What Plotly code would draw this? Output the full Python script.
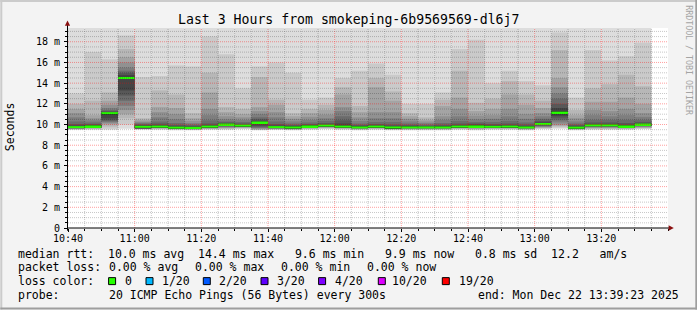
import pandas as pd
import plotly.graph_objects as go

# ---------------- data ----------------
title_text = "Last 3 Hours from smokeping-6b9569569-dl6j7"
start_time = "2025-12-22 10:40:00"
step_minutes = 5

# 20 sorted ping RTTs (ms) per 5-minute step
pings = [
    [9.48, 9.52, 9.55, 9.58, 9.60, 9.62, 9.64, 9.66, 9.68, 9.70, 9.80, 9.90, 10.05, 10.3, 10.7, 11.1, 11.5, 12.0, 13.0, 22.0],
    [9.50, 9.55, 9.60, 9.63, 9.66, 9.70, 9.72, 9.75, 9.76, 9.77, 9.87, 9.95, 10.05, 10.2, 10.4, 10.6, 10.9, 12.3, 17.0, 21.0],
    [9.50, 9.60, 9.80, 10.0, 10.1, 10.2, 10.3, 10.4, 10.6, 11.0, 11.15, 11.2, 11.3, 11.4, 11.6, 11.9, 12.3, 13.1, 16.3, 23.0],
    [9.60, 10.0, 10.6, 11.0, 11.4, 11.8, 12.3, 12.8, 13.3, 14.4, 14.6, 14.8, 15.0, 15.2, 15.5, 16.0, 16.5, 17.3, 18.6, 25.0],
    [9.50, 9.55, 9.58, 9.60, 9.62, 9.63, 9.64, 9.64, 9.64, 9.64, 9.84, 9.92, 10.0, 10.1, 10.2, 10.3, 10.45, 10.6, 14.6, 22.0],
    [9.50, 9.55, 9.60, 9.63, 9.66, 9.70, 9.72, 9.74, 9.75, 9.75, 9.85, 9.95, 10.1, 10.3, 10.7, 11.2, 11.7, 13.3, 14.7, 20.5],
    [9.45, 9.50, 9.54, 9.57, 9.60, 9.62, 9.64, 9.65, 9.65, 9.65, 9.76, 9.85, 9.95, 10.15, 10.5, 11.0, 11.6, 12.9, 15.7, 21.0],
    [9.45, 9.48, 9.50, 9.53, 9.56, 9.58, 9.60, 9.61, 9.62, 9.63, 9.73, 9.80, 9.90, 10.0, 10.15, 10.35, 10.6, 11.1, 15.6, 20.0],
    [9.50, 9.55, 9.58, 9.61, 9.64, 9.67, 9.70, 9.72, 9.73, 9.74, 9.86, 9.95, 10.1, 10.4, 10.9, 11.5, 13.1, 15.0, 18.5, 24.0],
    [9.50, 9.55, 9.60, 9.65, 9.70, 9.75, 9.80, 9.85, 9.90, 9.95, 10.05, 10.12, 10.2, 10.3, 10.5, 10.8, 11.2, 11.7, 16.8, 22.0],
    [9.55, 9.60, 9.65, 9.70, 9.74, 9.78, 9.80, 9.82, 9.84, 9.85, 9.95, 10.0, 10.1, 10.25, 10.45, 10.7, 11.0, 11.5, 13.5, 21.0],
    [9.45, 9.50, 9.50, 9.55, 9.60, 9.65, 9.70, 9.80, 9.90, 10.1, 10.25, 10.35, 10.5, 10.7, 11.0, 11.3, 11.7, 14.6, 15.6, 23.0],
    [9.48, 9.52, 9.55, 9.58, 9.60, 9.62, 9.64, 9.66, 9.68, 9.70, 9.80, 9.90, 10.05, 10.3, 10.7, 11.2, 11.9, 12.4, 16.0, 22.0],
    [9.45, 9.50, 9.52, 9.55, 9.58, 9.60, 9.62, 9.64, 9.66, 9.67, 9.77, 9.85, 9.95, 10.1, 10.3, 10.55, 10.8, 11.1, 15.0, 21.0],
    [9.50, 9.55, 9.60, 9.63, 9.66, 9.70, 9.72, 9.74, 9.76, 9.77, 9.87, 9.95, 10.05, 10.2, 10.45, 10.75, 11.1, 11.5, 12.4, 20.5],
    [9.55, 9.60, 9.65, 9.70, 9.74, 9.77, 9.80, 9.82, 9.84, 9.85, 9.95, 10.02, 10.15, 10.35, 10.6, 10.95, 11.4, 11.9, 12.6, 21.0],
    [9.50, 9.55, 9.60, 9.63, 9.66, 9.68, 9.70, 9.70, 9.70, 9.70, 9.90, 10.1, 10.4, 10.8, 11.3, 11.7, 12.9, 13.6, 14.5, 22.0],
    [9.45, 9.50, 9.53, 9.56, 9.59, 9.62, 9.64, 9.66, 9.67, 9.67, 9.77, 9.85, 9.95, 10.1, 10.35, 10.7, 11.2, 11.8, 15.2, 21.0],
    [9.50, 9.55, 9.60, 9.63, 9.66, 9.69, 9.72, 9.74, 9.75, 9.75, 9.85, 9.93, 10.05, 10.25, 10.6, 11.2, 13.6, 14.5, 15.9, 22.0],
    [9.45, 9.50, 9.53, 9.56, 9.59, 9.62, 9.64, 9.65, 9.66, 9.66, 9.78, 9.87, 10.0, 10.25, 10.6, 11.2, 12.3, 13.2, 14.8, 21.0],
    [9.45, 9.50, 9.53, 9.56, 9.59, 9.62, 9.64, 9.66, 9.67, 9.67, 9.77, 9.85, 9.95, 10.1, 10.3, 10.55, 10.8, 11.1, 12.0, 20.5],
    [9.45, 9.50, 9.53, 9.56, 9.59, 9.62, 9.64, 9.66, 9.67, 9.68, 9.76, 9.82, 9.90, 10.0, 10.15, 10.3, 10.45, 10.7, 12.0, 20.5],
    [9.45, 9.50, 9.53, 9.56, 9.59, 9.62, 9.64, 9.66, 9.67, 9.67, 9.77, 9.85, 9.97, 10.15, 10.45, 10.8, 11.8, 12.4, 13.1, 21.0],
    [9.50, 9.55, 9.60, 9.63, 9.66, 9.69, 9.72, 9.74, 9.75, 9.75, 9.85, 9.95, 10.1, 10.35, 10.8, 11.5, 12.6, 15.2, 17.3, 23.0],
    [9.45, 9.50, 9.55, 9.60, 9.64, 9.66, 9.68, 9.68, 9.68, 9.68, 9.95, 10.0, 10.1, 10.25, 10.5, 10.85, 11.3, 12.1, 18.2, 24.0],
    [9.50, 9.55, 9.60, 9.63, 9.66, 9.69, 9.72, 9.73, 9.73, 9.73, 9.83, 9.92, 10.05, 10.25, 10.55, 10.9, 11.5, 12.5, 14.0, 21.0],
    [9.50, 9.55, 9.60, 9.63, 9.66, 9.69, 9.72, 9.74, 9.75, 9.75, 9.85, 9.95, 10.1, 10.35, 10.8, 11.5, 12.9, 14.2, 15.2, 22.0],
    [9.45, 9.50, 9.53, 9.56, 9.59, 9.62, 9.64, 9.66, 9.67, 9.67, 9.77, 9.85, 10.0, 10.2, 10.55, 11.0, 11.9, 12.9, 14.2, 21.0],
    [9.55, 9.60, 9.65, 9.70, 9.75, 9.80, 9.85, 9.90, 9.95, 10.0, 10.1, 10.2, 10.35, 10.55, 10.8, 11.1, 11.6, 12.3, 13.8, 21.5],
    [9.60, 9.70, 9.80, 9.90, 10.0, 10.2, 10.4, 10.6, 10.8, 11.0, 11.3, 11.6, 12.0, 12.5, 13.0, 13.6, 14.5, 17.2, 18.9, 26.0],
    [9.45, 9.50, 9.53, 9.56, 9.59, 9.62, 9.64, 9.65, 9.65, 9.65, 9.75, 9.83, 9.95, 10.1, 10.3, 10.6, 10.9, 11.4, 12.6, 20.5],
    [9.50, 9.55, 9.60, 9.65, 9.70, 9.75, 9.78, 9.80, 9.84, 9.87, 9.97, 10.05, 10.2, 10.45, 10.9, 11.4, 12.2, 13.5, 17.2, 23.0],
    [9.50, 9.55, 9.60, 9.65, 9.70, 9.75, 9.78, 9.80, 9.84, 9.87, 9.97, 10.05, 10.2, 10.45, 10.8, 11.3, 12.2, 13.9, 16.2, 22.0],
    [9.50, 9.55, 9.60, 9.63, 9.66, 9.69, 9.72, 9.74, 9.76, 9.77, 9.87, 9.97, 10.15, 10.45, 10.9, 11.5, 12.6, 14.8, 16.6, 22.0],
    [9.55, 9.60, 9.65, 9.70, 9.75, 9.80, 9.85, 9.90, 9.93, 9.95, 10.05, 10.12, 10.25, 10.45, 10.75, 11.1, 12.0, 13.7, 17.9, 24.0],
]

median_rtt = [9.75, 9.82, 11.1, 14.5, 9.78, 9.80, 9.70, 9.68, 9.80, 10.0,
              9.90, 10.2, 9.75, 9.72, 9.82, 9.90, 9.80, 9.72, 9.80, 9.72,
              9.72, 9.72, 9.72, 9.80, 9.82, 9.78, 9.80, 9.72, 10.05, 11.15,
              9.70, 9.92, 9.92, 9.82, 10.0]

x_tick_labels = ["10:40", "11:00", "11:20", "11:40", "12:00", "12:20", "12:40", "13:00", "13:20"]
y_tick_values = [0, 2, 4, 6, 8, 10, 12, 14, 16, 18]
y_tick_labels = ["0", "2 m", "4 m", "6 m", "8 m", "10 m", "12 m", "14 m", "16 m", "18 m"]
y_max = 19.33

stats_rtt_line = "median rtt:  10.0 ms avg  14.4 ms max   9.6 ms min   9.9 ms now   0.8 ms sd  12.2   am/s"
stats_loss = ["packet loss:", "0.00 % avg", "0.00 % max", "0.00 % min", "0.00 % now"]
loss_labels = ["0", "1/20", "2/20", "3/20", "4/20", "10/20", "19/20"]
loss_colors = ["#26ff00", "#00b8ff", "#0059ff", "#5e00ff", "#7e00ff", "#dd00ff", "#ff0000"]
probe_text = "20 ICMP Echo Pings (56 Bytes) every 300s"
end_text = "end: Mon Dec 22 13:39:23 2025"

# ---------------- layout constants (pixels) ----------------
W, H = 697, 310
L, R_EDGE, T, B_EDGE = 67.7, 667.7, 28.0, 228.3
PW, PH = R_EDGE - L, B_EDGE - T
MONO = "DejaVu Sans Mono"


def xp(px):
    return (px - L) / PW


def yp(py):
    return (B_EDGE - py) / PH


t0 = pd.Timestamp(start_time)
step = pd.Timedelta(minutes=step_minutes)
centers = [t0 + step * k + step / 2 for k in range(len(pings))]
bar_w_ms = step_minutes * 60 * 1000

fig = go.Figure()

# smoke layers: outer pair lightest, inner pair darkest
n = len(pings[0])
half = n // 2
for i in range(1, half + 1):
    c = int(190 / half * (half - i)) + 50
    lo = [p[i - 1] for p in pings]
    hi = [p[n - i] for p in pings]
    fig.add_trace(go.Bar(
        x=centers, y=[h - l for h, l in zip(hi, lo)], base=lo, width=bar_w_ms,
        marker=dict(color=f"rgb({c},{c},{c})", line=dict(width=0)),
        opacity=1, hoverinfo="skip", showlegend=False))

# median band, 2 px tall
swidth = y_max / PH
fig.add_trace(go.Bar(
    x=centers, y=[2 * swidth] * len(median_rtt), base=[m - swidth for m in median_rtt],
    width=bar_w_ms, marker=dict(color=loss_colors[0], line=dict(width=0)),
    opacity=1, hoverinfo="skip", showlegend=False))

shapes = []
# grid (drawn above the smoke, like rrdtool)
n_steps = int(180 / step_minutes)
for k in range(1, n_steps):
    t = t0 + step * k
    major = (k % 4 == 0)
    shapes.append(dict(type="line", xref="x", yref="paper", x0=t, x1=t, y0=0, y1=1, layer="above",
                       line=dict(color="rgba(255,0,0,0.38)" if major else "rgba(0,0,0,0.22)",
                                 width=1, dash="1px,1px")))
v = 0.5
while v < y_max:
    major = abs(v / 2 - round(v / 2)) < 1e-9
    shapes.append(dict(type="line", xref="paper", yref="y", x0=0, x1=1, y0=v, y1=v, layer="above",
                       line=dict(color="rgba(255,0,0,0.38)" if major else "rgba(0,0,0,0.22)",
                                 width=1, dash="1px,1px")))
    v += 0.5

# axis lines + arrows
shapes.append(dict(type="line", xref="paper", yref="paper", x0=xp(L - 1), x1=xp(670), y0=0, y1=0,
                   layer="above", line=dict(color="#000000", width=1)))
shapes.append(dict(type="line", xref="paper", yref="paper", x0=xp(L - 0.5), x1=xp(L - 0.5), y0=yp(231), y1=yp(23),
                   layer="above", line=dict(color="#000000", width=1)))
shapes.append(dict(type="path", xref="paper", yref="paper", layer="above",
                   path=f"M {xp(668.3)},{yp(225.6)} L {xp(673.5)},{yp(228.3)} L {xp(668.3)},{yp(231)} Z",
                   fillcolor="#8b1010", line=dict(width=0)))
shapes.append(dict(type="path", xref="paper", yref="paper", layer="above",
                   path=f"M {xp(64.6)},{yp(25.8)} L {xp(67.2)},{yp(20.6)} L {xp(69.8)},{yp(25.8)} Z",
                   fillcolor="#8b1010", line=dict(width=0)))

# frame
shapes.append(dict(type="rect", xref="paper", yref="paper", x0=xp(0), x1=xp(W), y0=yp(0), y1=yp(2),
                   fillcolor="#cbcbcb", line=dict(width=0), layer="above"))
shapes.append(dict(type="rect", xref="paper", yref="paper", x0=xp(0), x1=xp(2), y0=yp(0), y1=yp(H),
                   fillcolor="#cbcbcb", line=dict(width=0), layer="above"))
shapes.append(dict(type="rect", xref="paper", yref="paper", x0=xp(0), x1=xp(W), y0=yp(H - 2), y1=yp(H),
                   fillcolor="#9e9e9e", line=dict(width=0), layer="above"))
shapes.append(dict(type="rect", xref="paper", yref="paper", x0=xp(W - 2), x1=xp(W), y0=yp(0), y1=yp(H),
                   fillcolor="#9e9e9e", line=dict(width=0), layer="above"))

# loss colour boxes
box_x = [108.3, 145.7, 203.0, 260.7, 318.3, 378.0, 442.0]
for bx, col in zip(box_x, loss_colors):
    shapes.append(dict(type="rect", xref="paper", yref="paper", x0=xp(bx), x1=xp(bx + 7), y0=yp(278), y1=yp(285),
                       fillcolor=col, line=dict(color="#000000", width=1), layer="above"))

annotations = []


def txt(s, px, py, size=11.5, anchor="left", color="#000000", angle=0):
    annotations.append(dict(text=s.replace(" ", "&nbsp;") if anchor != "center" or angle == 0 else s,
                            x=xp(px), y=yp(py), xref="paper", yref="paper", showarrow=False,
                            xanchor=anchor, yanchor="middle", textangle=angle, borderpad=0,
                            font=dict(family=MONO, size=size, color=color)))


txt(title_text, 348.0, 19.5, size=13.2, anchor="center")
txt("Seconds", 10.5, 127.5, angle=-90, anchor="center")
txt("RRDTOOL / TOBI OETIKER", 688.5, 60, size=8.3, anchor="center", color="#a4a4a4", angle=90)

txt(stats_rtt_line, 16.3, 254.3)
for s, px in zip(stats_loss, [16.3, 107.3, 193.3, 279.3, 366.0]):
    txt(s, px, 267.7)
txt("loss color:", 16.3, 281.5)
for s, px in zip(loss_labels, [123.3, 160.7, 217.3, 276.0, 333.3, 390.7, 457.3]):
    txt(s, px, 281.5)
txt("probe:", 16.3, 295.0)
txt(probe_text, 107.3, 295.0)
txt(end_text, 680.0, 295.0, anchor="right")

tick_vals = [pd.Timestamp(f"{start_time[:10]} {lab}:00") for lab in x_tick_labels]

fig.update_layout(
    width=W, height=H, autosize=False,
    margin=dict(l=L, r=W - R_EDGE, t=T, b=H - B_EDGE, pad=0),
    paper_bgcolor="#f3f3f3", plot_bgcolor="#ffffff",
    barmode="overlay", showlegend=False,
    shapes=shapes, annotations=annotations,
    xaxis=dict(type="date", range=[t0, t0 + pd.Timedelta(hours=3)],
               tickmode="array", tickvals=tick_vals, ticktext=x_tick_labels,
               ticks="outside", ticklen=3, tickcolor="#000000", tickwidth=1,
               minor=dict(tick0=t0, dtick=bar_w_ms, ticks="outside", ticklen=2, tickcolor="#000000", showgrid=False),
               showgrid=False, zeroline=False, showline=False, ticklabelstandoff=-2,
               tickfont=dict(family=MONO, size=10, color="#000000"), fixedrange=True),
    yaxis=dict(range=[0, y_max], tickmode="array", tickvals=y_tick_values, ticktext=y_tick_labels,
               ticks="outside", ticklen=3, tickcolor="#000000", tickwidth=1,
               minor=dict(dtick=0.5, ticks="outside", ticklen=2, tickcolor="#000000", showgrid=False),
               showgrid=False, zeroline=False, showline=False, ticklabelstandoff=2,
               tickfont=dict(family=MONO, size=10, color="#000000"), fixedrange=True),
)

fig.write_html("out.html", config={"displayModeBar": False})
